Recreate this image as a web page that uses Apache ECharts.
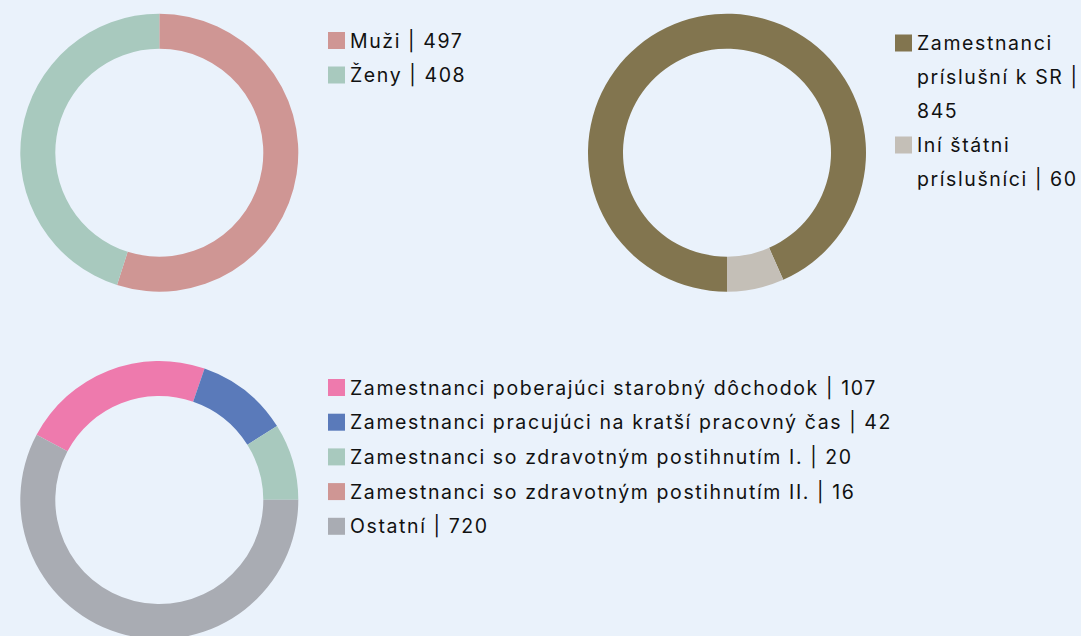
<!DOCTYPE html>
<html><head><meta charset="utf-8">
<script src="https://cdn.jsdelivr.net/npm/echarts@6/dist/echarts.min.js"></script>
<style>
html,body{margin:0;padding:0;background:#eaf2fb;}
#c{width:1081px;height:636px;}
#c svg text{letter-spacing:1.6px;}
</style>
</head><body><div id="c"></div>
<script>
// ---- data ----
const genderNames = ['Muži', 'Ženy'];
const genderValues = [497, 408];

const nationalityNames = ['Zamestnanci príslušní k SR', 'Iní štátni príslušníci'];
const nationalityValues = [845, 60];

const groupNames = [
  'Zamestnanci poberajúci starobný dôchodok',
  'Zamestnanci pracujúci na kratší pracovný čas',
  'Zamestnanci so zdravotným postihnutím I.',
  'Zamestnanci so zdravotným postihnutím II.',
  'Ostatní'
];
const groupValues = [107, 42, 20, 16, 720];
// share of the ring each slice occupies in the picture (percent)
const groupRingShares = [22.5, 10.8, 8.9, 0, 57.8];

// ---- styles ----
const genderColors = ['#cf9694', '#a8c9be'];
const nationalityColors = ['#82754f', '#c4bfb7'];
const groupColors = ['#ee7aad', '#5a7aba', '#a8c9be', '#cf9694', '#a9acb3'];
const FONT = 'Inter';
const FS = 19.5;
const LS = 1.6; // letter spacing (matches CSS)

const valueOf = {};
genderNames.forEach((n, i) => valueOf[n] = genderValues[i]);
nationalityNames.forEach((n, i) => valueOf[n] = nationalityValues[i]);
groupNames.forEach((n, i) => valueOf[n] = groupValues[i]);

function items(names, vals, colors) {
  return names.map((n, i) => ({ name: n, value: vals[i], itemStyle: { color: colors[i] } }));
}
const fmt = n => n + ' | ' + valueOf[n];
const baseText = { fontFamily: FONT, fontSize: FS, color: '#111', lineHeight: 20 };

// wrapped legend (top right): icon sits on the first line of the wrapped text
const LH2 = 34, WRAP = 178;
const mctx = document.createElement('canvas').getContext('2d');
mctx.font = FS + 'px ' + FONT;
const tw = s => mctx.measureText(s).width + s.length * LS;
function wrapLines(text) {
  const words = text.split(' ');
  const lines = [];
  let cur = '';
  words.forEach(w => {
    const cand = cur ? cur + ' ' + w : w;
    if (cur && tw(cand) > WRAP) { lines.push(cur); cur = w; } else { cur = cand; }
  });
  if (cur) lines.push(cur);
  return lines;
}
const fmtWrapped = n => {
  const lines = wrapLines(fmt(n));
  return '\n'.repeat(lines.length - 1) + lines.join('\n');
};

const pieBase = {
  type: 'pie', radius: [104, 139], clockwise: true,
  label: { show: false }, labelLine: { show: false },
  emphasis: { disabled: true }, silent: true, animation: false,
  itemStyle: { borderWidth: 0 }
};

const option = {
  backgroundColor: '#eaf2fb',
  animation: false,
  legend: [
    {
      data: genderNames, left: 328, top: 30.5, orient: 'vertical', padding: 0,
      itemWidth: 17, itemHeight: 17, itemGap: 14.5, icon: 'rect', selectedMode: false,
      formatter: fmt, textStyle: baseText
    },
    {
      data: nationalityNames,
      left: 895, top: -42, orient: 'vertical', padding: 0,
      itemWidth: 17, itemHeight: 17, itemGap: -LH2, icon: 'rect', selectedMode: false,
      formatter: fmtWrapped,
      textStyle: Object.assign({}, baseText, { lineHeight: LH2 })
    },
    {
      data: groupNames, left: 328, top: 377.5, orient: 'vertical', padding: 0,
      itemWidth: 17, itemHeight: 17, itemGap: 14.7, icon: 'rect', selectedMode: false,
      formatter: fmt, textStyle: baseText
    }
  ],
  series: [
    Object.assign({}, pieBase, { name: 'gender', center: [159.3, 152.7], startAngle: 90,
      data: items(genderNames, genderValues, genderColors) }),
    Object.assign({}, pieBase, { name: 'nationality', center: [727, 152.7], startAngle: -90,
      data: items(nationalityNames, nationalityValues, nationalityColors) }),
    Object.assign({}, pieBase, { name: 'groups', center: [159.3, 500], startAngle: 152,
      data: items(groupNames, groupRingShares, groupColors) })
  ]
};
const chart = echarts.init(document.getElementById('c'), null, { renderer: 'svg' });
chart.setOption(option);
</script></body></html>
